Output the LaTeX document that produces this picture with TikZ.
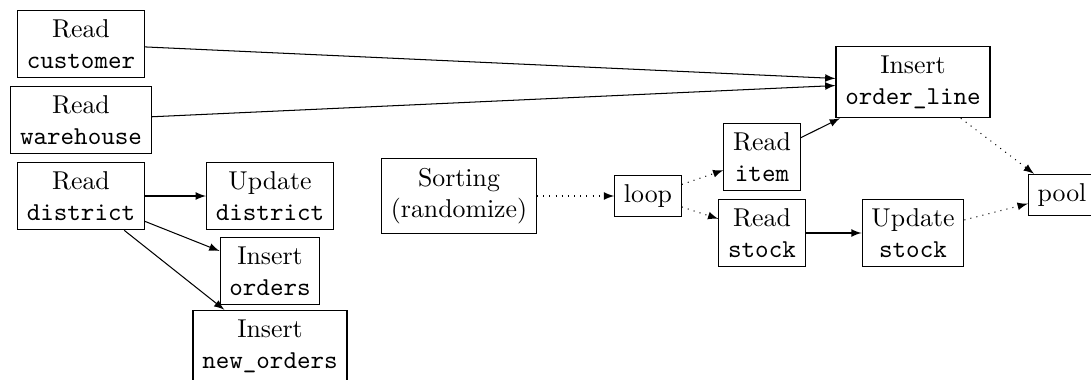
\documentclass[tikz,border=0pt]{standalone}
\usepackage{tikz}
\usetikzlibrary{arrows.meta,positioning}

\begin{document}
\begin{tikzpicture}[x=0.3876pt, y=-0.3876pt,
        op/.style={draw, align=center, inner sep=3.6pt},
        flow/.style={-latex},
        ctl/.style={-latex, dotted}]
    \useasboundingbox (0,0) rectangle (1091,380);
    % reads feeding order_line
    \node[op] (cust) at (81,44) {Read\\ \texttt{customer}};
    \node[op] (wh) at (81,120) {Read\\ \texttt{warehouse}};
    % district branch
    \node[op] (dist) at (81,196) {Read\\ \texttt{district}};
    \node[op] (updist) at (270,196) {Update\\ \texttt{district}};
    \node[op] (ord) at (270,271) {Insert\\ \texttt{orders}};
    \node[op] (neword) at (270,346) {Insert\\ \texttt{new\_orders}};
    % item loop
    \node[op] (sort) at (459,196) {Sorting\\ (randomize)};
    \node[op] (loop) at (648,196) {loop};
    \node[op] (item) at (762,157) {Read\\ \texttt{item}};
    \node[op] (stock) at (762,233) {Read\\ \texttt{stock}};
    \node[op] (oline) at (913,82) {Insert\\ \texttt{order\_line}};
    \node[op] (upstock) at (913,233) {Update\\ \texttt{stock}};
    \node[op] (pool) at (1062,195) {pool};

    \draw[flow] (cust) -- (oline);
    \draw[flow] (wh) -- (oline);
    \draw[flow] (dist) -- (updist);
    \draw[flow] (dist) -- (ord);
    \draw[flow] (dist) -- (neword);
    \draw[ctl] (sort) -- (loop);
    \draw[ctl] (loop) -- (item);
    \draw[ctl] (loop) -- (stock);
    \draw[flow] (item) -- (oline);
    \draw[flow] (stock) -- (upstock);
    \draw[ctl] (oline) -- (pool);
    \draw[ctl] (upstock) -- (pool);
\end{tikzpicture}
\end{document}
